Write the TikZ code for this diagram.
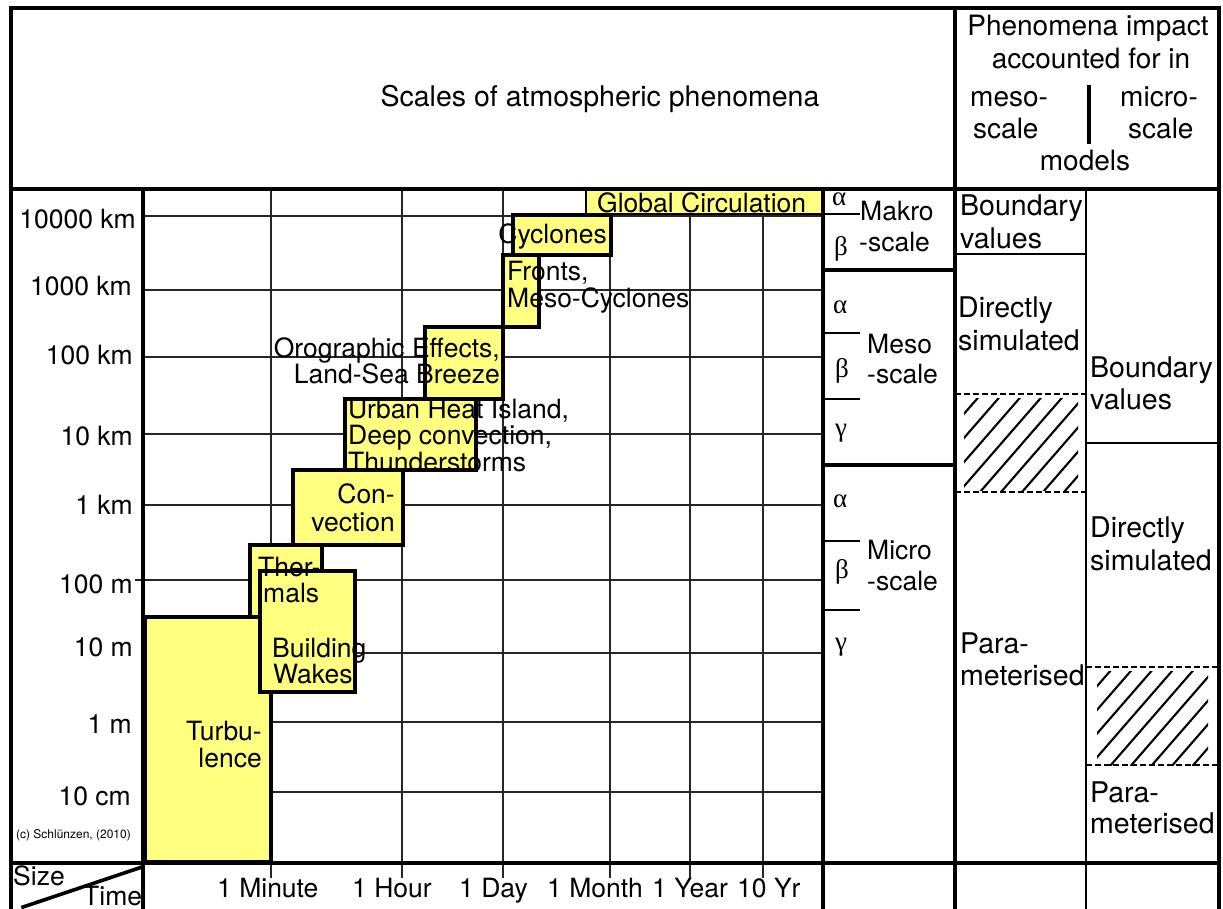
\documentclass[tikz,border=0pt]{standalone}
\usepackage{fontspec}
\setmainfont{TeX Gyre Heros}
\newfontfamily\grk{Liberation Serif}
\definecolor{ylw}{RGB}{255,255,128}
\tikzset{
 ybox/.style={fill=ylw, draw=black, line width=3.4pt},
 gridline/.style={draw=black!85, line width=1.2pt},
 frame/.style={line width=3.6pt, line cap=rect},
 midline/.style={line width=2.6pt},
 dline/.style={line width=2.2pt, dash pattern=on 6pt off 3pt},
 hatchline/.style={line width=2.1pt},
 t/.style={font=\fontsize{26.5}{26.5}\selectfont, inner sep=0pt},
 tb/.style={font=\fontsize{28.5}{28.5}\selectfont, inner sep=0pt},
 hd/.style={font=\fontsize{28}{28}\selectfont, inner sep=0pt},
 g/.style={font=\grk\fontsize{27}{27}\selectfont, inner sep=0pt},
}
\begin{document}
\begin{tikzpicture}[x=1pt,y=-1pt]
\useasboundingbox (0,0) rectangle (1223,908);
\fill[white] (0,0) rectangle (1223,908);

% grid
\foreach \x in {271,402,503,610,690,763} \draw[gridline] (\x,189) -- (\x,878);
\foreach \y in {216,290,357,434,505,653,722,792} \draw[gridline] (143,\y) -- (823,\y);
\draw[gridline] (135,580) -- (823,580);

% phenomena boxes
\filldraw[ybox, line width=2.2pt] (586,190) rectangle (823,214);
\filldraw[ybox] (513,215) rectangle (611,255);
\filldraw[ybox] (503,255) rectangle (539,327);
\filldraw[ybox] (425,327) rectangle (503,399);
\filldraw[ybox] (345,399) rectangle (476,470);
\filldraw[ybox] (293,470) rectangle (403,545);
\filldraw[ybox] (250,545) rectangle (322,617);
\filldraw[ybox] (145,617) rectangle (271,862);
\filldraw[ybox] (260,571) rectangle (355,692);

% phenomena texts
\node[t, anchor=base west] (glob) at (597,212) {Global Circulation};
\node[t, anchor=base east] (cyc) at (607,243) {Cyclones};
\node[t, anchor=base west] (fr1) at (507,280) {Fronts,};
\node[t, anchor=base west] (fr2) at (507,307) {Meso-Cyclones};
\node[t, anchor=base east] (or1) at (500,357) {Orographic Effects,};
\node[t, anchor=base east] (or2) at (500,383) {Land-Sea Breeze};
\node[t, anchor=base west] (ur1) at (348,418) {Urban Heat Island,};
\node[t, anchor=base west] (ur2) at (348,444) {Deep convection,};
\node[t, anchor=base west] (ur3) at (348,471) {Thunderstorms};
\node[t, anchor=base east] (co1) at (395,503) {Con-};
\node[t, anchor=base east] (co2) at (395,531) {vection};
\node[t, anchor=base west] (th1) at (258,576) {Ther-};
\node[t, anchor=base west] (th2) at (263,602) {mals};
\node[t, anchor=base west] (bw1) at (272,657) {Building};
\node[t, anchor=base west] (bw2) at (273,683) {Wakes};
\node[t, anchor=base east] (tu1) at (262,740) {Turbu-};
\node[t, anchor=base east] (tu2) at (262,767) {lence};

% size labels
\node[t, anchor=base east] (s1) at (136,228) {10000 km};
\node[t, anchor=base east] (s2) at (132,295) {1000 km};
\node[t, anchor=base east] (s3) at (133,364) {100 km};
\node[t, anchor=base east] (s4) at (133,445) {10 km};
\node[t, anchor=base east] (s5) at (133,514) {1 km};
\node[t, anchor=base east] (s6) at (133,593) {100 m};
\node[t, anchor=base east] (s7) at (133,656) {10 m};
\node[t, anchor=base east] (s8) at (132,733) {1 m};
\node[t, anchor=base east] (s9) at (131,805) {10 cm};
\node[font=\fontsize{12}{12}\selectfont, inner sep=0pt, anchor=base east] (copy) at (131,838) {(c) Schl\"unzen, (2010)};

% time labels
\node[t, anchor=base west] (tm1) at (217,897) {1 Minute};
\node[t, anchor=base west] (tm2) at (352,897) {1 Hour};
\node[t, anchor=base west] (tm3) at (459,897) {1 Day};
\node[t, anchor=base west] (tm4) at (547,897) {1 Month};
\node[t, anchor=base west] (tm5) at (652,897) {1 Year};
\node[t, anchor=base west] (tm6) at (737,897) {10 Yr};
\node[t, anchor=base west] (size) at (13,885) {Size};
\node[t, anchor=base west] (time) at (83,905) {Time};

% header
\node[tb, anchor=base] (title) at (600,106) {Scales of atmospheric phenomena};
\node[hd, anchor=base] (h1) at (1088,35) {Phenomena impact};
\node[hd, anchor=base] (h2) at (1091,68) {accounted for in};
\node[hd, anchor=base west] (h3) at (970,106) {meso-};
\node[hd, anchor=base west] (h4) at (1120,106) {micro-};
\node[hd, anchor=base west] (h5) at (973,138) {scale};
\node[hd, anchor=base west] (h6) at (1128,138) {scale};
\node[hd, anchor=base] (h7) at (1085,170) {models};
\draw[line width=4pt] (1089,85) -- (1089,144);

% scale column
\node[g, anchor=base west] (a1) at (832,205) {α};
\node[g, anchor=base west] (b1) at (834,255) {β};
\node[g, anchor=base west] (a2) at (833,313) {α};
\node[g, anchor=base west] (b2) at (835,377) {β};
\node[g, anchor=base west] (c2) at (835,436) {γ};
\node[g, anchor=base west] (a3) at (833,507) {α};
\node[g, anchor=base west] (b3) at (835,578) {β};
\node[g, anchor=base west] (c3) at (835,650) {γ};
\node[t, anchor=base west] (mk1) at (860,220) {Makro};
\node[t, anchor=base west] (mk2) at (859,251) {-scale};
\node[t, anchor=base west] (me1) at (867,353) {Meso};
\node[t, anchor=base west] (me2) at (867,383) {-scale};
\node[t, anchor=base west] (mi1) at (867,559) {Micro};
\node[t, anchor=base west] (mi2) at (867,590) {-scale};

% model columns
\node[tb, anchor=base west] (m1) at (960,215) {Boundary};
\node[tb, anchor=base west] (m2) at (960,248) {values};
\node[tb, anchor=base west] (m3) at (958,317) {Directly};
\node[tb, anchor=base west] (m4) at (958,350) {simulated};
\node[tb, anchor=base west] (m5) at (960,653) {Para-};
\node[tb, anchor=base west] (m6) at (960,685) {meterised};
\node[tb, anchor=base west] (n1) at (1090,377) {Boundary};
\node[tb, anchor=base west] (n2) at (1090,409) {values};
\node[tb, anchor=base west] (n3) at (1090,537) {Directly};
\node[tb, anchor=base west] (n4) at (1090,570) {simulated};
\node[tb, anchor=base west] (n5) at (1090,802) {Para-};
\node[tb, anchor=base west] (n6) at (1090,833) {meterised};

% hatching
\begin{scope}
\clip (964,398) rectangle (1078,490);
\foreach \k in {-6,...,6} \draw[hatchline] (980+21*\k,492) -- ++(100,-115);
\end{scope}
\begin{scope}
\clip (1097,671) rectangle (1208,765);
\foreach \k in {-6,...,6} \draw[hatchline] (1110+20.6*\k,766) -- ++(100,-115);
\end{scope}
\draw[dline] (955,394) -- (1086,394);
\draw[dline] (955,492) -- (1086,492);
\draw[dline] (1086,667) -- (1219,667);
\draw[dline] (1086,765) -- (1219,765);

% frame
\draw[frame] (11,912) -- (11,8) -- (1219,8) -- (1219,912);
\draw[frame] (11,189) -- (1219,189);
\draw[frame] (955,8) -- (955,912);
\draw[frame] (143,189) -- (143,912);
\draw[frame] (823,189) -- (823,912);
\draw[midline] (1086,189) -- (1086,912);
\draw[frame] (11,863) -- (1219,863);
\draw[frame] (823,270) -- (955,270);
\draw[frame] (823,465) -- (955,465);
\foreach \y in {214,333,399,541,610} \draw[midline] (823,\y) -- (860,\y);
\draw[midline] (955,254) -- (1086,254);
\draw[midline] (1086,443) -- (1219,443);
\draw[frame] (23,907) -- (142,867);
\end{tikzpicture}
\end{document}
